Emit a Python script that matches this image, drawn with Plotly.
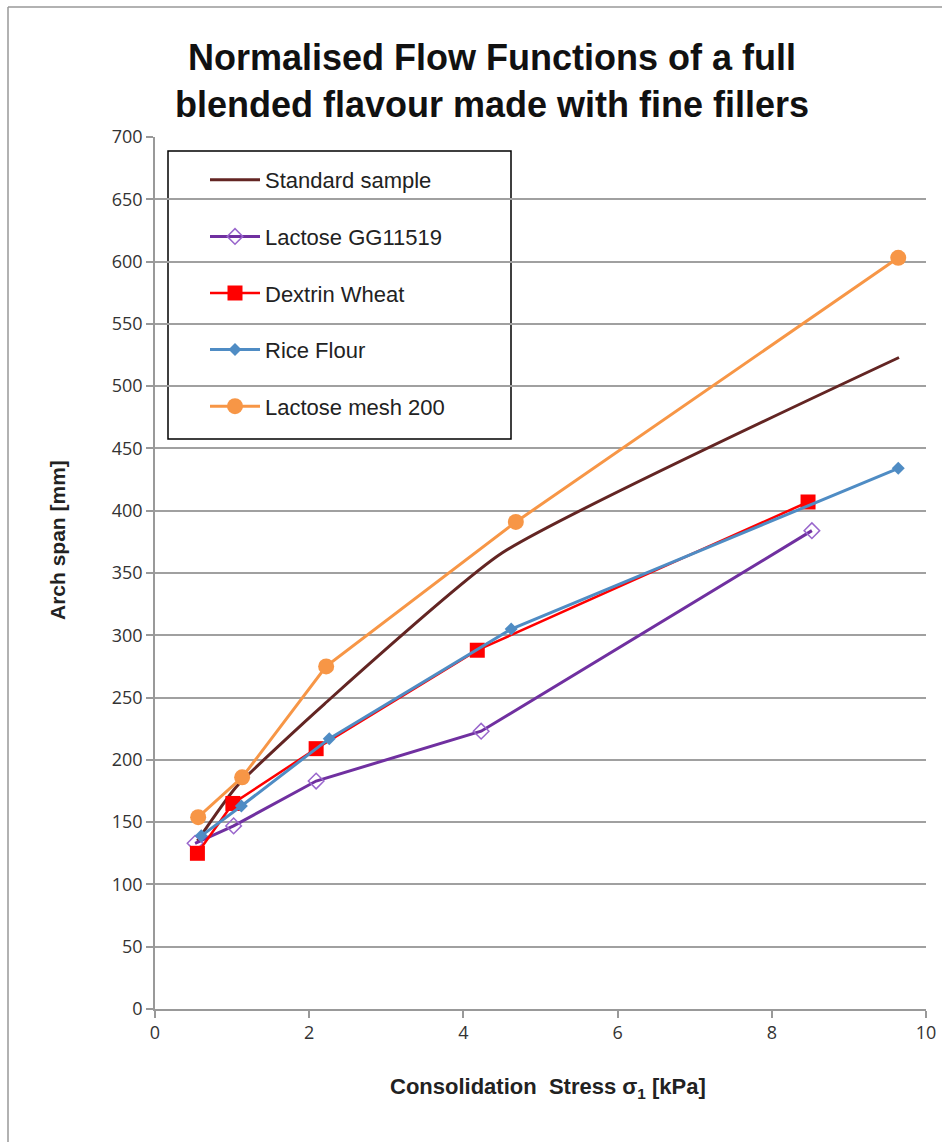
import plotly.graph_objects as go

# Consolidation stress sigma1 [kPa] and arch span [mm] for each blend
std_x = [0.55, 1.05, 2.2, 4.5, 9.65]
std_y = [135, 178, 245, 366, 523]

gg_x = [0.52, 1.02, 2.09, 4.23, 8.52]
gg_y = [133, 147, 183, 223, 384]

dex_x = [0.55, 1.01, 2.09, 4.18, 8.47]
dex_y = [125, 165, 209, 288, 407]

rice_x = [0.6, 1.12, 2.26, 4.62, 9.64]
rice_y = [139, 163, 217, 305, 434]

mesh_x = [0.56, 1.13, 2.22, 4.68, 9.64]
mesh_y = [154, 186, 275, 391, 603]

x_ticks = [0, 2, 4, 6, 8, 10]
y_ticks = list(range(0, 701, 50))

W, H = 942, 1142
ML, MR, MT, MB = 155, 16, 137, 133
PW, PH = W - ML - MR, H - MT - MB


def px_x(px):
    return (px - ML) / PW


def px_y(py):
    return (H - MB - py) / PH


fig = go.Figure()

fig.add_trace(go.Scatter(
    x=std_x, y=std_y, name="Standard sample", mode="lines",
    line=dict(color="#632523", width=3, shape="spline", smoothing=0.5),
    legendgroup="a"))
fig.add_trace(go.Scatter(
    x=gg_x, y=gg_y, name="Lactose GG11519", mode="lines+markers",
    line=dict(color="#7030A0", width=3),
    marker=dict(symbol="diamond-open", size=12, color="#9966CC", line=dict(width=1.5)),
    legendgroup="b"))
fig.add_trace(go.Scatter(
    x=dex_x, y=dex_y, name="Dextrin Wheat", mode="lines+markers",
    line=dict(color="#FF0000", width=2.5),
    marker=dict(symbol="square", size=15, color="#FF0000"),
    legendgroup="c"))
fig.add_trace(go.Scatter(
    x=rice_x, y=rice_y, name="Rice Flour", mode="lines+markers",
    line=dict(color="#4F8CC4", width=3),
    marker=dict(symbol="diamond", size=10, color="#4F8CC4"),
    legendgroup="d"))
fig.add_trace(go.Scatter(
    x=mesh_x, y=mesh_y, name="Lactose mesh 200", mode="lines+markers",
    line=dict(color="#F79646", width=3),
    marker=dict(symbol="circle", size=16, color="#F79646"),
    legendgroup="e"))

fig.update_layout(
    width=W, height=H,
    margin=dict(l=ML, r=MR, t=MT, b=MB),
    paper_bgcolor="white", plot_bgcolor="white",
    font=dict(family="Liberation Sans, Arial, sans-serif", color="#222"),
    title=dict(
        text="<b>Normalised Flow Functions of a full<br>blended flavour made with fine fillers</b>",
        x=px_x(492), xref="paper", xanchor="center",
        y=1 - 70 / H, yanchor="middle",
        font=dict(family="Liberation Sans, Arial, sans-serif", size=36, color="#111"),
    ),
    xaxis=dict(
        range=[0, 10], tickvals=x_ticks, showgrid=False, zeroline=False,
        showline=True, linecolor="#999", linewidth=1.5, automargin=False,
        ticks="outside", ticklen=7, tickcolor="#999", tickwidth=1.5,
        tickfont=dict(family="Open Sans, sans-serif", size=18, color="#333"),
    ),
    yaxis=dict(
        range=[0, 700], tickvals=y_ticks, showgrid=True, gridcolor="#a0a0a0", gridwidth=1.5,
        zeroline=False, showline=True, linecolor="#999", linewidth=1.5, automargin=False,
        ticks="outside", ticklen=7, tickcolor="#999", tickwidth=1.5,
        tickfont=dict(family="Open Sans, sans-serif", size=18, color="#333"),
    ),
    legend=dict(
        x=px_x(205), y=px_y(159), xanchor="left", yanchor="top",
        bgcolor="rgba(0,0,0,0)", borderwidth=0,
        font=dict(family="Liberation Sans, Arial, sans-serif", size=22, color="#222"),
        tracegroupgap=25, itemwidth=50,
    ),
    showlegend=True,
    annotations=[
        dict(text="<b>Consolidation  Stress σ<sub>1</sub> [kPa]</b>",
             xref="paper", yref="paper", x=px_x(548), y=px_y(1088),
             xanchor="center", yanchor="middle", showarrow=False,
             font=dict(size=22, color="#222")),
        dict(text="<b>Arch span [mm]</b>", textangle=-90,
             xref="paper", yref="paper", x=px_x(57), y=px_y(540),
             xanchor="center", yanchor="middle", showarrow=False,
             font=dict(size=21, color="#222")),
    ],
    shapes=[
        # legend frame
        dict(type="rect", xref="paper", yref="paper",
             x0=px_x(168), x1=px_x(511), y0=px_y(439), y1=px_y(151),
             line=dict(color="black", width=1.5), fillcolor="white", layer="below"),
        # chart area frame (left and top edges)
        dict(type="line", xref="paper", yref="paper",
             x0=px_x(8), x1=px_x(8), y0=px_y(H + 5), y1=px_y(7),
             line=dict(color="#999", width=1.5)),
        dict(type="line", xref="paper", yref="paper",
             x0=px_x(8), x1=px_x(W + 5), y0=px_y(7), y1=px_y(7),
             line=dict(color="#999", width=1.5)),
    ],
)

fig.write_html("out.html")
